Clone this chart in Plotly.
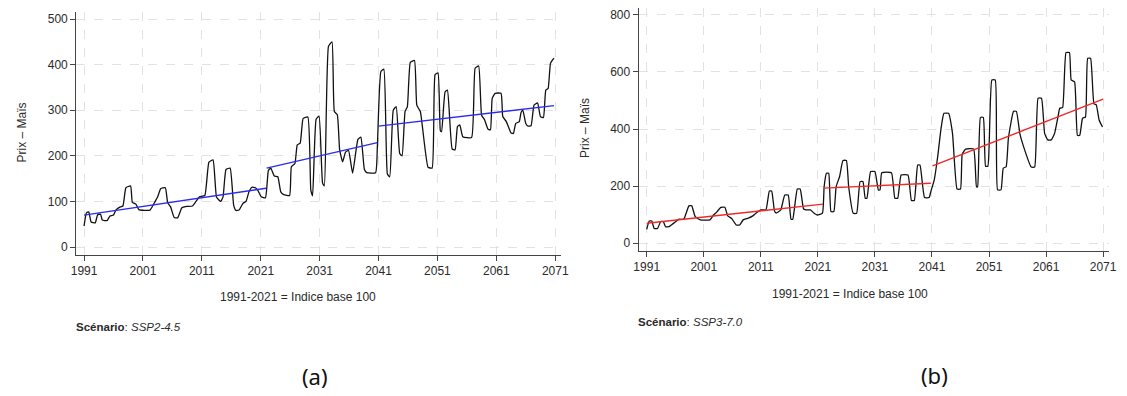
import plotly.graph_objects as go

# ---------------- data: panel (a) SSP2-4.5 ----------------
years_a = [1991.0, 1991.4, 1991.8, 1992.2, 1992.9, 1993.3, 1993.8, 1994.1, 1994.9, 1995.4,
           1996.0, 1996.4, 1997.0, 1997.6, 1998.1, 1998.9, 1999.2, 1999.8, 2000.3, 2002.2,
           2002.9, 2003.5, 2004.0, 2004.8, 2005.2, 2005.7, 2006.3, 2006.9, 2007.6, 2008.4,
           2009.4, 2010.0, 2010.6, 2011.5, 2012.2, 2012.9, 2013.5, 2014.2, 2014.6, 2015.1,
           2015.8, 2016.4, 2016.8, 2017.3, 2018.0, 2018.5, 2019.0, 2019.5, 2020.1, 2020.5,
           2021.1, 2021.8, 2022.3, 2022.7, 2023.3, 2023.9, 2024.4, 2024.9, 2025.9, 2026.2,
           2026.8, 2027.2, 2027.7, 2028.2, 2029.0, 2029.5, 2029.8, 2030.4, 2030.9, 2031.5,
           2031.8, 2032.5, 2033.1, 2033.5, 2034.0, 2034.4, 2034.9, 2035.4, 2035.9, 2036.6,
           2037.5, 2038.0, 2038.6, 2039.0, 2040.5, 2040.8, 2041.4, 2041.9, 2042.5, 2042.9,
           2043.5, 2044.0, 2044.6, 2045.0, 2045.5, 2045.9, 2046.4, 2047.1, 2047.5, 2048.1,
           2049.4, 2050.1, 2050.6, 2051.1, 2051.5, 2051.7, 2052.3, 2052.7, 2053.5, 2054.0,
           2054.4, 2054.8, 2055.3, 2056.8, 2057.4, 2058.0, 2058.5, 2059.0, 2059.6, 2060.0,
           2060.3, 2060.8, 2061.8, 2062.1, 2062.7, 2063.5, 2063.9, 2064.3, 2064.9, 2065.2,
           2065.5, 2066.0, 2066.4, 2066.9, 2067.4, 2068.0, 2068.5, 2069.0, 2069.4, 2069.8,
           2070.2, 2070.8]
prix_a = [46, 75, 77, 55, 53, 71, 72, 59, 58, 68,
          70, 81, 87, 90, 130, 134, 98, 94, 82, 81,
          96, 110, 128, 130, 97, 88, 65, 64, 86, 89,
          90, 100, 110, 113, 186, 191, 109, 100, 110, 170,
          173, 92, 80, 81, 96, 100, 121, 131, 130, 124,
          110, 108, 168, 173, 156, 154, 121, 115, 113, 176,
          183, 224, 228, 282, 285, 125, 112, 280, 287, 140,
          134, 440, 450, 297, 290, 213, 187, 208, 212, 162,
          236, 241, 170, 163, 163, 220, 385, 390, 160, 154,
          300, 308, 205, 200, 297, 308, 405, 409, 311, 297,
          175, 173, 378, 382, 255, 253, 340, 344, 215, 213,
          264, 268, 242, 240, 392, 397, 289, 279, 258, 257,
          326, 337, 337, 286, 275, 250, 249, 271, 275, 295,
          300, 271, 265, 266, 311, 316, 286, 284, 344, 348,
          403, 414]

# trend segments (a): start/end years and fitted values
trend_a_x = [[1991.0, 2021.9], [2022.0, 2040.8], [2041.0, 2070.8]]
trend_a_y = [[70, 129], [173, 229], [265, 310]]

# ---------------- data: panel (b) SSP3-7.0 ----------------
years_b = [1991.0, 1991.45, 1991.9, 1992.3, 1992.9, 1993.45, 1993.9, 1994.3, 1994.9, 1995.5,
           1996.05, 1996.6, 1997.5, 1998.4, 1998.9, 1999.5, 2000.4, 2002.1, 2002.7, 2003.3,
           2004.0, 2004.7, 2005.2, 2005.9, 2006.7, 2007.3, 2007.9, 2008.8, 2009.6, 2010.2,
           2011.05, 2011.9, 2012.5, 2012.9, 2013.4, 2013.7, 2014.5, 2015.2, 2015.8, 2016.3,
           2016.6, 2017.4, 2017.9, 2018.5, 2018.9, 2019.7, 2020.3, 2020.9, 2021.8, 2022.1,
           2022.5, 2022.9, 2023.3, 2023.8, 2024.2, 2024.8, 2025.4, 2026.0, 2026.4, 2027.2,
           2027.8, 2028.4, 2028.9, 2029.3, 2029.6, 2030.25, 2031.0, 2031.6, 2031.9, 2032.2,
           2033.9, 2034.5, 2035.0, 2035.6, 2036.8, 2037.4, 2037.9, 2038.5, 2038.9, 2039.7,
           2040.5, 2040.8, 2041.4, 2042.0, 2042.6, 2043.1, 2043.9, 2044.6, 2045.4, 2046.0,
           2046.3, 2046.9, 2048.3, 2048.8, 2049.0, 2049.5, 2050.0, 2050.4, 2050.8, 2051.5,
           2052.1, 2052.5, 2053.1, 2053.5, 2054.0, 2054.4, 2055.3, 2055.8, 2056.4, 2057.0,
           2058.4, 2059.0, 2059.6, 2060.2, 2060.75, 2061.3, 2061.9, 2062.5, 2063.1, 2063.4,
           2063.9, 2064.5, 2065.1, 2065.4, 2066.0, 2066.5, 2066.9, 2067.4, 2067.9, 2068.3,
           2068.8, 2069.4, 2069.8, 2070.3, 2070.9]
prix_b = [49, 78, 78, 52, 52, 76, 76, 58, 58, 67,
          75, 84, 84, 131, 131, 93, 82, 82, 99, 110,
          126, 126, 96, 87, 64, 64, 82, 88, 96, 106,
          117, 117, 183, 183, 113, 106, 117, 169, 169, 84,
          84, 190, 190, 120, 117, 117, 106, 99, 106, 198,
          245, 245, 111, 111, 198, 233, 290, 290, 198, 105,
          105, 216, 216, 158, 158, 251, 251, 187, 187, 247,
          247, 158, 158, 239, 239, 150, 150, 274, 274, 160,
          160, 181, 222, 303, 403, 455, 455, 385, 190, 190,
          312, 330, 330, 198, 198, 441, 441, 270, 270, 572,
          572, 187, 187, 263, 268, 368, 462, 462, 385, 342,
          267, 267, 508, 508, 385, 362, 362, 385, 444, 473,
          475, 668, 668, 572, 565, 378, 378, 438, 442, 648,
          648, 488, 485, 432, 407]

trend_b_x = [[1991.0, 2021.9], [2022.0, 2040.8], [2041.1, 2071.0]]
trend_b_y = [[70, 137], [193, 210], [271, 505]]

x_ticks = [1991, 2001, 2011, 2021, 2031, 2041, 2051, 2061, 2071]
y_ticks_a = [0, 100, 200, 300, 400, 500]
y_ticks_b = [0, 200, 400, 600, 800]

W, H = 1127, 396
FONT = "Liberation Sans, Arial, sans-serif"
TXT = "#2a2a2a"

def px(x):
    return x / W

def py(y):
    return 1 - y / H

fig = go.Figure()

fig.add_trace(go.Scatter(x=years_a, y=prix_a, mode="lines",
                         line=dict(color="#111111", width=1.3, shape="spline", smoothing=0.4),
                         xaxis="x", yaxis="y", showlegend=False, hoverinfo="skip"))
for tx, ty in zip(trend_a_x, trend_a_y):
    fig.add_trace(go.Scatter(x=tx, y=ty, mode="lines", line=dict(color="#2b2bf0", width=1.4),
                             xaxis="x", yaxis="y", showlegend=False, hoverinfo="skip"))

fig.add_trace(go.Scatter(x=years_b, y=prix_b, mode="lines",
                         line=dict(color="#111111", width=1.3, shape="spline", smoothing=0.4),
                         xaxis="x2", yaxis="y2", showlegend=False, hoverinfo="skip"))
for tx, ty in zip(trend_b_x, trend_b_y):
    fig.add_trace(go.Scatter(x=tx, y=ty, mode="lines", line=dict(color="#f02828", width=1.4),
                             xaxis="x2", yaxis="y2", showlegend=False, hoverinfo="skip"))

axis_common = dict(showline=True, linecolor="#444444", linewidth=1, ticks="outside",
                   ticklen=5, tickcolor="#444444", showgrid=True, gridcolor="#e2e2e2",
                   griddash="dash", gridwidth=1, zeroline=False,
                   tickfont=dict(family=FONT, size=12, color=TXT))

fig.update_layout(
    width=W, height=H, autosize=False,
    margin=dict(l=0, r=0, t=0, b=0),
    paper_bgcolor="white", plot_bgcolor="white",
    xaxis=dict(domain=[px(72), px(562)], range=[1989.66, 2071.9], tickvals=x_ticks,
               anchor="y", **axis_common),
    yaxis=dict(domain=[py(255), py(11.7)], range=[-17.5, 516], tickvals=y_ticks_a,
               anchor="x", **axis_common),
    xaxis2=dict(domain=[px(641), px(1116.7)], range=[1989.58, 2072.0], tickvals=x_ticks,
                anchor="y2", **axis_common),
    yaxis2=dict(domain=[py(250.7), py(8.3)], range=[-26, 823], tickvals=y_ticks_b,
                anchor="x2", **axis_common),
)

ann = []
def add_text(text, x, y, size=12, xanchor="center", angle=0, family=FONT, color=TXT):
    ann.append(dict(text=text, x=px(x), y=py(y), xref="paper", yref="paper",
                    showarrow=False, xanchor=xanchor, yanchor="middle", textangle=angle,
                    font=dict(family=family, size=size, color=color)))

add_text("Prix – Maïs", 16.7, 133, angle=-90)
add_text("Prix – Maïs", 586.7, 128, angle=-90)
add_text("1991-2021 = Indice base 100", 296.7, 297)
add_text("1991-2021 = Indice base 100", 855.3, 294)
add_text("<b>Scénario</b>: <i>SSP2-4.5</i>", 70, 326.7, size=11.5, xanchor="left")
add_text("<b>Scénario</b>: <i>SSP3-7.0</i>", 638.7, 321.7, size=11.5, xanchor="left")
add_text("(a)", 313.3, 376, size=22, family="Noto Sans, sans-serif", color="#111111")
add_text("(b)", 940, 375, size=22, family="Noto Sans, sans-serif", color="#111111")
fig.update_layout(annotations=ann)

fig.write_html("out.html", config={"displayModeBar": False},
               post_script="document.body.style.margin='0';document.body.style.overflow='hidden';")
